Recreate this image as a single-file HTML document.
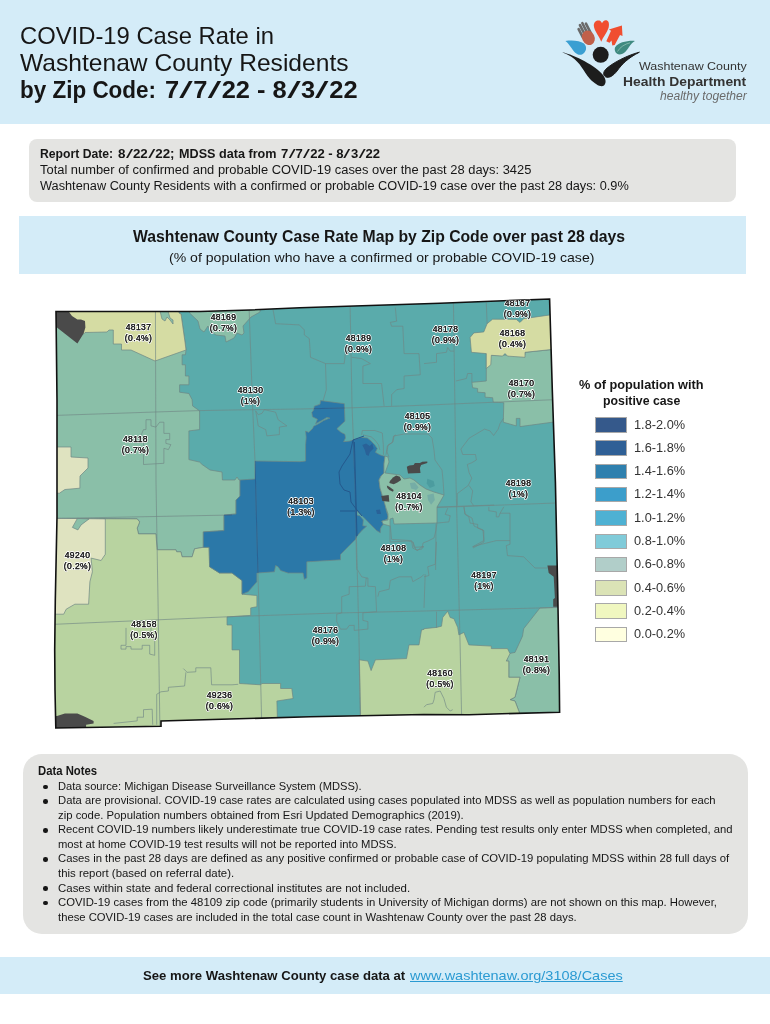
<!DOCTYPE html>
<html lang="en">
<head>
<meta charset="utf-8">
<title>COVID-19 Case Rate in Washtenaw County Residents by Zip Code</title>
<style>
html,body{margin:0;padding:0;}
body{width:770px;height:1024px;position:relative;overflow:hidden;background:#fff;font-family:"Liberation Sans",sans-serif;color:#161616;}
.band{position:absolute;background:#d4ecf8;}
.gbox{position:absolute;background:#e4e4e2;}
.t{position:absolute;white-space:nowrap;transform-origin:0 50%;line-height:1;}
.b{font-weight:bold;}
.i{font-style:italic;}
.sl{display:inline-block;width:0.556em;text-align:center;transform:scaleX(1.9);font-weight:normal;}
svg{position:absolute;left:0;top:0;}
svg text{font-family:"Liberation Sans",sans-serif;}
.dot{position:absolute;width:4.6px;height:4.6px;border-radius:50%;background:#161616;}
.sw{position:absolute;width:29.4px;height:13.6px;border:1px solid #a8a8a8;}
a{color:#2a9ad2;text-decoration:underline;}
</style>
</head>
<body>

<div class="band" style="left:0;top:0;width:770px;height:124px;"></div>
<div class="t" style="left:20.0px;top:23.9px;font-size:24px;transform:scaleX(0.9918);">COVID-19 Case Rate in</div>
<div class="t" style="left:20.0px;top:50.8px;font-size:24px;transform:scaleX(1.0247);">Washtenaw County Residents</div>
<div class="t b" style="left:20.0px;top:77.6px;font-size:24px;transform:scaleX(0.9359);">by Zip Code:</div>
<div class="t b" style="left:165.0px;top:77.6px;font-size:24px;transform:scaleX(1.0609);">7<span class="sl">/</span>7<span class="sl">/</span>22 - 8<span class="sl">/</span>3<span class="sl">/</span>22</div>
<div class="t" style="left:638.6px;top:60.5px;font-size:11.5px;transform:scaleX(1.0838);color:#333;">Washtenaw County</div>
<div class="t b" style="left:623.0px;top:74.6px;font-size:13.5px;transform:scaleX(1.0265);color:#333;">Health Department</div>
<div class="t i" style="left:659.5px;top:89.8px;font-size:12px;transform:scaleX(1.0075);color:#6a6a6a;">healthy together</div>
<div class="gbox" style="left:28.9px;top:139px;width:707.3px;height:63px;border-radius:8px;"></div>
<div class="t b" style="left:40.4px;top:147.7px;font-size:12px;transform:scaleX(1.0153);">Report Date:</div>
<div class="t b" style="left:117.5px;top:147.7px;font-size:12px;transform:scaleX(1.1144);">8<span class="sl">/</span>22<span class="sl">/</span>22;</div>
<div class="t b" style="left:179.0px;top:147.7px;font-size:12px;transform:scaleX(1.0521);">MDSS data from</div>
<div class="t b" style="left:281.0px;top:147.7px;font-size:12px;transform:scaleX(1.0912);">7<span class="sl">/</span>7<span class="sl">/</span>22 - 8<span class="sl">/</span>3<span class="sl">/</span>22</div>
<div class="t" style="left:40.4px;top:164.1px;font-size:12px;transform:scaleX(1.0753);">Total number of confirmed and probable COVID-19 cases over the past 28 days: 3425</div>
<div class="t" style="left:40.4px;top:180.2px;font-size:12px;transform:scaleX(1.0617);">Washtenaw County Residents with a confirmed or probable COVID-19 case over the past 28 days: 0.9%</div>
<div class="band" style="left:19px;top:216.2px;width:726.8px;height:57.4px;"></div>
<div class="t b" style="left:133.0px;top:228.9px;font-size:16px;transform:scaleX(0.9841);">Washtenaw County Case Rate Map by Zip Code over past 28 days</div>
<div class="t" style="left:168.6px;top:250.9px;font-size:13px;transform:scaleX(1.0822);">(% of population who have a confirmed or probable COVID-19 case)</div>
<svg width="770" height="1024" viewBox="0 0 770 1024">
<g id="logo">
<path d="M562.1,52.2 C575,55 596,66 603,75 C606,79 606.5,83 604,85.5 C601,87.5 596,85 590,79 C583,71 581,63 571,56.5 C567,54 564,53 562.1,52.2 Z" fill="#1d1d1d"/>
<path d="M639.4,52.2 C628,55 612,63 605.5,69.5 C603,72.5 603,75 605.5,76.8 C609,78.5 613,76 617,71 C622,64 628,58 639.4,52.2 Z" fill="#1d1d1d" stroke="#1d1d1d" stroke-width="1" stroke-linejoin="round"/>
<circle cx="600.7" cy="54.8" r="8" fill="#1d1d1d"/>
<path d="M565.4,40.9 C572,40 580,40.5 584,43.5 C587.5,47 586.5,52 582,54.5 C577.5,56 574,52 571.5,48 C569.5,45 567.5,42.5 565.4,40.9 Z" fill="#3a9fd2"/>
<path d="M634.9,40.9 C627,40.5 618,42.5 615,47.5 C614,51 616,54 619.5,54.5 C624,54.5 627,50 629,47 C631,44 633,42 634.9,40.9 Z" fill="#3f8a80"/>
<path d="M617.5,51.5 C620,47 625,44 630,42.8" fill="none" stroke="#8fc0b4" stroke-width="0.8"/>
<path d="M601.2,41.8 C600,37 594,31 593.8,25.5 C593.8,21.5 597,19.8 599.5,20.6 C600.8,21 601.6,22.3 602,23.3 C602.6,21.5 604.5,19.8 606.5,20.3 C609,21 609.5,24.5 608.5,28 C607,33 603,37 601.2,41.8 Z" fill="#f04e30"/>
<polygon points="621.9,25.6 622.5,36 620,35 614.7,45.1 612.3,45.5 611.5,40.5 609.5,42.8 606.3,41.2 611,30.8 608.9,29.5" fill="#f04e30"/>
<g transform="translate(586.3,33.8) rotate(-27)">
<rect x="-6" y="-9" width="2.6" height="12" rx="1.3" fill="#6a6a6a"/>
<rect x="-3" y="-12" width="2.6" height="14" rx="1.3" fill="#6a6a6a"/>
<rect x="0" y="-12.5" width="2.6" height="14" rx="1.3" fill="#6a6a6a"/>
<rect x="3" y="-10.5" width="2.6" height="13" rx="1.3" fill="#6a6a6a"/>
<ellipse cx="0" cy="4.5" rx="6.2" ry="7.5" fill="#c0604a"/>
</g>
</g>

<defs><clipPath id="cc"><polygon points="56.0,311.5 200.0,311.5 250.0,310.0 300.0,307.8 440.0,303.2 549.6,299.0 552.3,390.0 555.4,482.0 557.5,580.0 559.2,674.0 559.6,712.2 469.0,714.7 424.0,714.5 310.0,716.8 161.0,721.0 161.0,726.3 55.8,728.0 55.0,690.0 54.7,650.0 55.3,600.0 57.0,517.0 57.0,400.0"/></clipPath><clipPath id="bc"><polygon points="320.6,400.6 344.3,403.7 344.9,421.2 336.8,428.7 341.1,432.4 344.9,434.3 345.5,438.0 343.6,441.7 349.9,441.1 354.9,439.3 361.1,437.4 367.3,438.0 371.1,441.1 374.8,444.9 377.3,448.6 375.4,452.3 379.8,454.8 383.5,456.1 385.0,456.0 384.0,464.0 384.0,473.0 381.0,476.0 379.0,480.0 380.0,488.0 383.0,498.0 384.9,503.3 386.5,511.6 388.2,516.6 387.4,519.1 381.5,521.6 384.0,523.3 381.5,526.6 380.3,529.1 380.3,532.8 376.6,530.5 369.9,523.7 363.3,517.0 357.0,510.8 357.0,515.0 359.9,515.8 363.3,519.9 362.8,525.8 366.6,526.2 362.4,529.9 356.6,536.6 355.8,539.1 345.0,549.9 340.5,554.5 340.5,559.8 306.8,561.8 306.8,578.0 304.3,579.3 303.1,573.0 288.1,573.0 280.6,570.5 278.1,566.8 275.6,565.5 274.4,571.8 256.9,573.0 256.9,581.8 248.2,591.7 242.0,594.2 242.0,580.5 232.0,573.0 219.5,573.0 209.6,566.8 209.1,547.3 203.3,547.3 203.3,531.9 224.0,530.6 224.0,515.0 236.0,514.0 236.0,500.0 240.0,496.0 240.0,480.0 255.0,479.0 255.0,461.0 300.0,461.7 305.6,461.1 305.6,444.9 306.2,437.4 305.6,431.1 308.7,432.4 312.5,428.7 313.7,426.2 318.7,423.7 323.7,420.5 329.9,418.1 326.8,417.4 321.8,420.5 315.6,423.7 317.5,419.3 312.5,416.8 311.8,412.4 313.7,410.0 314.3,406.2 320.0,404.3"/></clipPath></defs>
<g clip-path="url(#cc)">
<rect x="40" y="290" width="540" height="450" fill="#5aabab"/>
<polygon points="50.0,300.0 179.0,300.0 179.0,313.0 181.0,314.0 185.0,342.0 186.0,350.0 185.4,354.8 182.1,354.8 182.1,364.8 185.4,364.8 185.4,376.0 188.9,376.0 188.9,384.8 179.6,384.8 179.6,392.2 188.9,393.5 192.1,399.7 192.6,405.9 199.6,410.9 199.6,429.6 188.9,430.9 188.9,459.6 199.6,462.1 202.1,464.5 210.0,470.0 222.0,472.0 222.4,480.0 235.0,480.0 237.0,477.0 239.0,480.0 240.0,480.0 240.0,496.0 236.0,500.0 236.0,514.0 224.0,515.0 224.0,530.6 203.3,531.9 203.3,547.3 194.6,548.8 192.1,556.8 182.1,556.8 180.9,551.8 176.7,551.8 175.9,549.8 157.2,549.8 155.9,533.9 138.5,533.9 137.2,528.1 139.7,521.9 137.2,518.9 110.0,518.5 50.0,519.0" fill="#8abfa8" stroke="#6f8684" stroke-width="0.7"/>
<polygon points="56.0,300.0 179.0,300.0 179.0,313.0 181.0,314.0 185.0,342.0 186.0,350.0 155.0,361.0 131.0,350.0 121.5,350.0 121.5,344.0 113.3,344.0 113.3,330.0 109.0,330.0 107.0,332.0 85.0,332.5 83.6,334.0 56.0,312.0" fill="#d5dca3" stroke="#6f8684" stroke-width="0.7"/>
<polygon points="160.0,311.0 162.0,319.0 165.0,321.0 167.0,317.0 170.0,320.0 173.0,324.0 173.0,320.0 170.0,318.0 168.0,311.0" fill="#8abfa8" stroke="#6f8684" stroke-width="0.7"/>
<polygon points="189.6,300.0 189.6,313.0 198.0,321.0 200.0,329.0 204.0,332.0 208.0,326.0 210.0,331.0 216.0,335.0 225.0,336.0 226.0,342.0 234.0,338.0 237.0,333.0 242.0,335.0 244.0,333.0 243.0,326.0 251.0,317.0 260.0,312.0 260.0,300.0" fill="#8abfa8" stroke="#6f8684" stroke-width="0.7"/>
<polygon points="50.0,447.0 71.0,447.0 71.0,457.0 88.0,458.0 88.0,468.0 80.0,476.0 79.9,482.0 79.9,488.2 64.9,489.5 59.4,493.2 50.0,493.2" fill="#dfe3c0" stroke="#6f8684" stroke-width="0.7"/>
<polygon points="50.0,518.5 137.2,518.9 139.7,521.9 137.2,528.1 138.5,533.9 155.9,533.9 157.2,549.8 175.9,549.8 176.7,551.8 180.9,551.8 182.1,556.8 192.1,556.8 194.6,548.8 203.3,547.3 209.1,547.3 209.6,566.8 219.5,573.0 232.0,573.0 242.0,580.5 242.0,594.2 256.9,595.5 256.9,606.7 250.7,607.9 250.7,615.4 232.0,616.6 227.0,616.9 227.0,625.0 232.0,625.0 232.0,649.9 239.5,649.9 239.5,683.5 260.7,684.8 261.9,683.5 280.6,683.5 280.6,688.5 291.8,688.5 293.1,698.5 276.9,701.0 277.4,719.7 50.0,735.0" fill="#b8d3a0" stroke="#6f8684" stroke-width="0.7"/>
<polygon points="50.0,518.2 105.3,518.9 105.3,554.3 101.1,560.5 91.1,558.1 92.4,571.8 89.9,581.7 88.6,604.2 74.9,604.2 66.2,609.2 63.7,614.2 50.0,614.2" fill="#dfe3c0" stroke="#6f8684" stroke-width="0.7"/>
<polygon points="77.4,518.4 89.1,518.9 81.1,524.9 77.9,529.9 72.4,527.4" fill="#8abfa8" stroke="#6f8684" stroke-width="0.7"/>
<polygon points="320.6,400.6 344.3,403.7 344.9,421.2 336.8,428.7 341.1,432.4 344.9,434.3 345.5,438.0 343.6,441.7 349.9,441.1 354.9,439.3 361.1,437.4 367.3,438.0 371.1,441.1 374.8,444.9 377.3,448.6 375.4,452.3 379.8,454.8 383.5,456.1 385.0,456.0 384.0,464.0 384.0,473.0 381.0,476.0 379.0,480.0 380.0,488.0 383.0,498.0 384.9,503.3 386.5,511.6 388.2,516.6 387.4,519.1 381.5,521.6 384.0,523.3 381.5,526.6 380.3,529.1 380.3,532.8 376.6,530.5 369.9,523.7 363.3,517.0 357.0,510.8 357.0,515.0 359.9,515.8 363.3,519.9 362.8,525.8 366.6,526.2 362.4,529.9 356.6,536.6 355.8,539.1 345.0,549.9 340.5,554.5 340.5,559.8 306.8,561.8 306.8,578.0 304.3,579.3 303.1,573.0 288.1,573.0 280.6,570.5 278.1,566.8 275.6,565.5 274.4,571.8 256.9,573.0 256.9,581.8 248.2,591.7 242.0,594.2 242.0,580.5 232.0,573.0 219.5,573.0 209.6,566.8 209.1,547.3 203.3,547.3 203.3,531.9 224.0,530.6 224.0,515.0 236.0,514.0 236.0,500.0 240.0,496.0 240.0,480.0 255.0,479.0 255.0,461.0 300.0,461.7 305.6,461.1 305.6,444.9 306.2,437.4 305.6,431.1 308.7,432.4 312.5,428.7 313.7,426.2 318.7,423.7 323.7,420.5 329.9,418.1 326.8,417.4 321.8,420.5 315.6,423.7 317.5,419.3 312.5,416.8 311.8,412.4 313.7,410.0 314.3,406.2 320.0,404.3" fill="#2b78a8" stroke="#6f8684" stroke-width="0.7"/>
<polygon points="385.0,456.0 388.0,457.0 389.0,462.0 385.0,473.0 400.0,475.0 404.0,479.0 410.0,478.0 414.0,480.0 420.0,485.0 426.0,489.0 434.0,492.0 444.0,495.0 440.0,502.0 437.0,507.0 437.0,523.0 394.0,524.0 393.0,518.0 390.0,519.0 390.0,526.0 383.0,524.0 382.0,521.0 388.0,520.0 388.0,514.0 386.0,508.0 383.0,498.0 380.0,488.0 379.0,480.0 381.0,476.0 384.0,473.0 384.0,464.0" fill="#8abfa8" stroke="#6f8684" stroke-width="0.7"/>
<polygon points="486.3,353.6 490.8,355.3 525.0,354.8 525.0,352.3 553.7,349.3 556.2,421.7 520.0,426.6 520.0,418.4 516.3,418.4 516.3,425.9 503.3,422.2 503.8,402.7 493.3,402.2 492.6,397.7 485.1,397.2 485.1,392.7 477.6,392.2 477.6,388.5 472.6,387.7 471.9,382.3 486.3,381.0" fill="#8abfa8" stroke="#6f8684" stroke-width="0.7"/>
<polygon points="487.1,323.7 492.6,319.2 516.3,319.4 520.0,322.4 523.7,318.7 553.7,314.4 553.7,349.3 525.0,352.3 525.0,357.3 507.5,356.1 505.0,353.6 502.5,356.1 491.3,355.3 490.8,364.8 486.3,368.5 486.3,353.6 471.4,352.3 470.1,337.4 473.9,332.9 483.8,331.9" fill="#d5dca3" stroke="#6f8684" stroke-width="0.7"/>
<polygon points="539.9,608.0 563.6,607.0 566.1,717.2 521.2,717.2 515.0,701.0 510.0,699.7 515.0,697.2 520.0,677.3 508.8,677.3 508.8,661.1 506.3,661.1 508.8,653.6 515.0,652.4 522.5,636.2 523.7,628.7" fill="#8abfa8" stroke="#6f8684" stroke-width="0.7"/>
<polygon points="424.0,628.7 436.5,627.4 441.5,626.2 442.7,617.5 447.7,611.2 450.2,617.5 453.9,618.7 457.7,627.4 458.9,634.9 463.9,632.4 468.9,644.9 491.3,646.1 491.3,648.6 507.5,648.6 510.0,653.6 506.3,661.1 508.8,661.1 508.8,677.3 520.0,677.3 515.0,697.2 510.0,699.7 515.0,701.0 521.2,717.2 360.0,730.0 360.4,719.7 359.2,659.8 367.9,661.1 371.1,670.6 375.4,659.8 406.5,658.6 409.0,644.9 419.0,644.9 421.5,629.9 424.0,629.4" fill="#b8d3a0" stroke="#6f8684" stroke-width="0.7"/>
<g fill="none" stroke="#6f8684" stroke-width="0.8" stroke-opacity="0.8">
<polyline points="155.4,300.0 155.6,361.0 156.0,482.0 158.0,600.0 160.0,735.0"/>
<polyline points="248.8,300.0 252.6,406.0 255.0,461.0 256.5,520.0 258.7,600.0 262.0,735.0"/>
<polyline points="350.0,300.0 352.0,405.0 355.0,482.0 357.0,560.0 359.0,640.0 361.0,735.0"/>
<polyline points="453.4,300.0 456.0,482.0 458.0,560.0 460.0,640.0 462.0,735.0"/>
<polyline points="50.0,415.6 155.0,412.0 199.6,410.6 232.0,410.0 300.0,409.0 352.0,407.8 424.0,405.2 553.7,399.7 570.0,399.0"/>
<polyline points="50.0,518.5 155.0,516.5 232.0,515.0"/>
<polyline points="437.0,507.5 556.0,503.0 570.0,502.5"/>
<polyline points="50.0,624.5 232.0,616.6 337.0,613.0 424.0,611.0 557.0,607.5 570.0,607.0"/>
<polyline points="143.5,429.6 146.0,429.6 146.0,419.7 151.0,419.7 151.0,425.9 155.9,427.1 159.7,422.2 163.9,422.2 163.9,433.4 169.7,433.4 169.7,439.6 165.9,439.6 165.9,443.4 170.9,444.6 168.4,449.6 163.9,448.3 163.9,463.3 143.5,464.5 143.5,438.4 139.7,438.4 143.5,429.6"/>
<polyline points="273.1,309.9 275.6,323.7 299.3,324.9 304.3,329.9 304.3,334.9 309.3,338.6 310.5,357.3 325.5,363.6 344.2,363.6 345.5,352.3 350.4,352.3"/>
<polyline points="325.5,363.6 326.3,389.7 323.0,401.0"/>
<polyline points="395.3,307.5 396.6,321.2 390.3,322.4 391.6,326.2 402.8,326.2 404.1,353.6 419.0,353.6 420.3,374.8 404.1,376.0 404.1,388.5 396.6,389.7 391.6,394.7 391.6,405.9"/>
<polyline points="351.7,357.3 361.7,358.6 370.4,363.6 362.9,366.1 362.9,383.5 381.6,383.5 384.1,405.9"/>
<polyline points="255.7,410.9 258.2,414.7 261.9,413.4 264.4,409.7 275.6,412.2 278.1,419.7 286.9,425.9 279.4,427.1 279.4,434.6 266.9,435.9 265.7,429.6 258.2,425.9 256.9,417.2 255.7,410.9"/>
<polyline points="486.3,302.5 487.1,323.7"/>
<polyline points="424.0,363.6 436.5,362.3 436.5,353.6 446.4,352.3 447.7,347.4 450.2,351.1 453.9,351.1"/>
<polyline points="455.9,381.0 466.4,378.5 467.6,373.5 471.9,373.5 471.9,382.3"/>
<polyline points="126.0,627.9 126.0,645.3 121.0,645.3 121.0,649.1 126.0,649.1 126.0,646.6 131.0,646.6 131.0,649.1 142.2,649.1 142.2,645.3 149.7,645.3 149.7,654.1 154.7,655.3 154.7,641.6 151.0,631.6 151.0,627.9"/>
<polyline points="341.7,596.7 349.2,594.2 349.2,586.7 365.4,586.2 366.2,578.0 367.9,578.0 367.9,586.2 375.4,586.7 376.6,611.7 362.9,612.9 362.9,620.4 367.9,621.6 367.9,629.1 354.2,630.4 354.2,625.4 349.2,625.4 346.7,629.1 340.5,629.1 336.7,621.6 336.7,614.2 341.7,612.9 341.7,596.7"/>
<polyline points="357.9,570.5 361.7,576.8 366.6,578.0"/>
<polyline points="377.9,596.7 379.1,591.7 389.1,589.2 390.3,580.5 399.1,576.8 411.5,576.8 412.8,581.7 421.5,576.8 424.0,574.3"/>
<polyline points="390.3,525.6 391.6,539.4 411.5,540.6 412.8,548.1 417.8,550.6 421.5,546.8 424.0,546.8"/>
<polyline points="355.9,535.6 356.7,569.3 357.9,570.5"/>
<polyline points="463.9,506.9 465.1,514.4 468.9,516.9 470.1,523.1 477.6,524.4 477.6,528.1 483.8,530.6 483.8,540.6 472.6,546.8 481.4,544.3 496.3,540.6 510.0,540.6"/>
<polyline points="503.8,506.9 500.1,513.2 510.0,513.2 510.0,544.3 506.3,545.6 507.5,555.6 523.7,556.8 535.0,568.0 547.4,568.0"/>
<polyline points="488.8,506.9 488.8,510.7 496.3,511.9 496.3,516.9 498.8,516.9 500.1,513.2"/>
<polyline points="436.5,541.8 435.2,564.3 427.7,566.8 429.0,575.5 424.0,576.8"/>
<polyline points="424.0,607.9 425.2,574.3"/>
<polyline points="436.5,523.1 448.9,521.9 450.2,515.7 445.2,514.4 447.7,508.2"/>
<polyline points="436.5,611.7 436.5,627.9"/>
<polyline points="424.0,546.8 414.0,547.3 412.8,541.8"/>
<polyline points="183.4,668.6 187.1,672.3 195.8,671.8 195.8,667.8 210.8,667.8 211.6,684.8 232.0,684.8 238.2,684.3"/>
<polyline points="185.9,672.3 184.6,686.0 168.4,687.3 168.4,691.0 160.9,691.8 156.7,694.3 156.7,724.7"/>
<polyline points="113.6,723.4 137.2,720.9 137.2,717.2 143.5,717.2 143.5,709.7 152.2,709.2 152.7,724.7"/>
<polyline points="424.0,707.2 426.5,704.7 432.7,703.5 434.0,699.7 435.2,692.3 440.2,691.0 443.9,698.5 446.4,707.2 450.2,711.0 452.7,709.7"/>
<polyline points="389.0,457.0 387.0,452.0 388.0,445.0 393.0,442.0 394.0,436.0 404.0,434.0 428.0,434.0 432.0,438.0 434.0,450.0 435.0,460.0 442.0,470.0 443.0,480.0 444.0,495.0"/>
<polyline points="390.0,526.0 390.0,542.0 407.0,541.0 413.0,542.0 416.0,550.0 422.0,549.0 423.0,543.0 428.0,541.0 434.0,538.0 436.0,530.0 437.0,523.0"/>
<polyline points="437.0,507.0 494.0,505.0"/>
<polyline points="436.0,524.0 435.6,570.0"/>
<polyline points="464.0,507.0 465.0,514.0 472.0,518.0 474.0,526.0 483.0,530.0 484.0,542.0 473.0,548.0"/>
<polyline points="361.7,434.9 362.3,430.5 374.8,430.5 382.3,433.0 383.3,444.9 383.5,454.8"/>
<polyline points="363.0,434.9 371.1,436.8 374.8,439.9 378.6,444.9 379.8,449.9"/>
<polyline points="386.0,454.8 387.3,446.1 392.3,442.4 393.5,436.1 396.0,434.9"/>
<polyline points="503.6,418.2 500.0,423.6 498.2,429.1 493.6,435.5 490.0,430.9 484.5,429.1 469.1,438.2 460.9,449.1 462.7,454.5 475.5,454.5 476.4,460.0 471.8,462.7 467.3,464.5 469.1,472.7 471.8,478.2 468.2,485.5 457.3,493.6 457.3,505.5"/>
<polyline points="469.1,485.5 472.7,490.9 470.9,501.8 473.6,505.5"/>
</g>
<g clip-path="url(#bc)" fill="none" stroke="#245f94" stroke-width="0.9">
<polyline points="155.4,300.0 155.6,361.0 156.0,482.0 158.0,600.0 160.0,735.0"/>
<polyline points="248.8,300.0 252.6,406.0 255.0,461.0 256.5,520.0 258.7,600.0 262.0,735.0"/>
<polyline points="350.0,300.0 352.0,405.0 355.0,482.0 357.0,560.0 359.0,640.0 361.0,735.0"/>
<polyline points="453.4,300.0 456.0,482.0 458.0,560.0 460.0,640.0 462.0,735.0"/>
<polyline points="50.0,415.6 155.0,412.0 199.6,410.6 232.0,410.0 300.0,409.0 352.0,407.8 424.0,405.2 553.7,399.7 570.0,399.0"/>
<polyline points="50.0,518.5 155.0,516.5 232.0,515.0"/>
<polyline points="437.0,507.5 556.0,503.0 570.0,502.5"/>
</g>
<polyline points="364.0,436.0 353.0,440.0 350.0,454.0 342.0,466.0 339.0,472.0 340.0,484.0 344.0,490.0 350.0,492.0 351.0,502.0 357.0,510.0 362.0,516.0" fill="none" stroke="#24588c" stroke-width="1"/>
<polyline points="340.0,511.0 355.0,511.0" fill="none" stroke="#24588c" stroke-width="1"/>
<polyline points="354.4,442.0 357.0,536.0" fill="none" stroke="#24588c" stroke-width="1"/>
<polygon points="409.9,483.0 414.9,482.4 418.6,487.4 416.1,489.9 411.1,488.6" fill="#75ada6"/>
<polygon points="427.3,494.9 433.6,493.6 434.8,499.9 431.1,504.8 428.0,499.9" fill="#75ada6"/>
<polygon points="427.3,478.7 433.6,481.1 434.8,486.1 429.8,488.0 426.7,483.6" fill="#4c9c9f"/>
<polygon points="376.0,510.0 380.0,509.5 381.0,514.0 377.0,514.0" fill="#2a6298"/>
<polygon points="362.3,444.9 366.1,443.6 369.8,446.1 372.3,443.6 373.6,448.6 369.8,452.3 368.6,456.1 366.1,454.8 364.8,449.9" fill="#2a6298"/>
<polygon points="50.0,300.0 69.4,300.0 69.4,312.4 72.0,316.0 77.4,319.4 81.0,319.4 85.0,321.0 85.4,327.4 83.6,333.6 77.4,343.6 50.0,322.0" fill="#4a4a4a"/>
<polygon points="50.0,715.9 57.0,715.9 64.9,713.5 77.4,713.5 84.9,716.7 93.6,720.9 93.6,723.4 86.1,724.7 86.1,732.2 50.0,732.2" fill="#4a4a4a"/>
<polygon points="547.4,565.5 558.6,565.5 558.6,606.7 553.2,606.7 553.2,599.2 554.9,597.9 553.7,576.8 548.7,573.0" fill="#4a4a4a"/>
<polygon points="406.8,466.8 409.3,465.6 413.6,464.9 414.9,463.1 419.9,463.1 422.3,461.8 427.3,461.4 427.3,463.1 421.1,464.9 419.9,468.1 420.5,473.0 408.0,473.4 407.4,469.9" fill="#4a4a4a"/>
<polygon points="393.0,477.4 396.2,475.5 399.9,476.8 401.1,479.9 397.4,482.4 393.7,484.3 389.3,483.0 389.9,481.1" fill="#4a4a4a"/>
<polygon points="386.8,485.5 389.3,486.8 393.7,489.9 393.0,491.7 389.3,489.9 387.4,488.0" fill="#4a4a4a"/>
<polygon points="381.2,496.1 388.7,494.9 389.3,501.7 382.4,501.1" fill="#4a4a4a"/>
</g>
<polygon points="56.0,311.5 200.0,311.5 250.0,310.0 300.0,307.8 440.0,303.2 549.6,299.0 552.3,390.0 555.4,482.0 557.5,580.0 559.2,674.0 559.6,712.2 469.0,714.7 424.0,714.5 310.0,716.8 161.0,721.0 161.0,726.3 55.8,728.0 55.0,690.0 54.7,650.0 55.3,600.0 57.0,517.0 57.0,400.0" fill="none" stroke="#111" stroke-width="1.6" stroke-linejoin="miter"/>
<g clip-path="url(#cc)" font-size="8.5" letter-spacing="0.4" text-anchor="middle" fill="#222" stroke="#fff" stroke-width="1.8" stroke-linejoin="round" paint-order="stroke" style="paint-order:stroke">
<text x="138.5" y="329.5">48137</text><text x="138.5" y="340.5">(0.4%)</text>
<text x="223.5" y="319.5">48169</text><text x="223.5" y="330.5">(0.7%)</text>
<text x="358.5" y="340.5">48189</text><text x="358.5" y="351.5">(0.9%)</text>
<text x="445.5" y="331.5">48178</text><text x="445.5" y="342.5">(0.9%)</text>
<text x="517.5" y="305.5">48167</text><text x="517.5" y="316.5">(0.9%)</text>
<text x="512.5" y="335.5">48168</text><text x="512.5" y="346.5">(0.4%)</text>
<text x="521.5" y="385.5">48170</text><text x="521.5" y="396.5">(0.7%)</text>
<text x="250.5" y="392.5">48130</text><text x="250.5" y="403.5">(1%)</text>
<text x="417.5" y="418.5">48105</text><text x="417.5" y="429.5">(0.9%)</text>
<text x="135.5" y="441.5">48118</text><text x="135.5" y="452.5">(0.7%)</text>
<text x="518.5" y="485.5">48198</text><text x="518.5" y="496.5">(1%)</text>
<text x="301" y="504">48103</text><text x="301" y="515">(1.3%)</text>
<text x="409" y="498.5">48104</text><text x="409" y="509.5">(0.7%)</text>
<text x="393.5" y="550.5">48108</text><text x="393.5" y="561.5">(1%)</text>
<text x="484" y="578">48197</text><text x="484" y="589">(1%)</text>
<text x="77.5" y="557.5">49240</text><text x="77.5" y="568.5">(0.2%)</text>
<text x="144" y="626.5">48158</text><text x="144" y="637.5">(0.5%)</text>
<text x="325.5" y="632.5">48176</text><text x="325.5" y="643.5">(0.9%)</text>
<text x="440" y="676">48160</text><text x="440" y="687">(0.5%)</text>
<text x="536.5" y="662">48191</text><text x="536.5" y="673">(0.8%)</text>
<text x="219.5" y="697.5">49236</text><text x="219.5" y="708.5">(0.6%)</text>
</g>
<g clip-path="url(#cc)" font-size="8.5" letter-spacing="0.4" text-anchor="middle" fill="#222" stroke="#222" stroke-width="0.25">
<text x="138.5" y="329.5">48137</text><text x="138.5" y="340.5">(0.4%)</text>
<text x="223.5" y="319.5">48169</text><text x="223.5" y="330.5">(0.7%)</text>
<text x="358.5" y="340.5">48189</text><text x="358.5" y="351.5">(0.9%)</text>
<text x="445.5" y="331.5">48178</text><text x="445.5" y="342.5">(0.9%)</text>
<text x="517.5" y="305.5">48167</text><text x="517.5" y="316.5">(0.9%)</text>
<text x="512.5" y="335.5">48168</text><text x="512.5" y="346.5">(0.4%)</text>
<text x="521.5" y="385.5">48170</text><text x="521.5" y="396.5">(0.7%)</text>
<text x="250.5" y="392.5">48130</text><text x="250.5" y="403.5">(1%)</text>
<text x="417.5" y="418.5">48105</text><text x="417.5" y="429.5">(0.9%)</text>
<text x="135.5" y="441.5">48118</text><text x="135.5" y="452.5">(0.7%)</text>
<text x="518.5" y="485.5">48198</text><text x="518.5" y="496.5">(1%)</text>
<text x="301" y="504">48103</text><text x="301" y="515">(1.3%)</text>
<text x="409" y="498.5">48104</text><text x="409" y="509.5">(0.7%)</text>
<text x="393.5" y="550.5">48108</text><text x="393.5" y="561.5">(1%)</text>
<text x="484" y="578">48197</text><text x="484" y="589">(1%)</text>
<text x="77.5" y="557.5">49240</text><text x="77.5" y="568.5">(0.2%)</text>
<text x="144" y="626.5">48158</text><text x="144" y="637.5">(0.5%)</text>
<text x="325.5" y="632.5">48176</text><text x="325.5" y="643.5">(0.9%)</text>
<text x="440" y="676">48160</text><text x="440" y="687">(0.5%)</text>
<text x="536.5" y="662">48191</text><text x="536.5" y="673">(0.8%)</text>
<text x="219.5" y="697.5">49236</text><text x="219.5" y="708.5">(0.6%)</text>
</g>
</svg>
<div class="t b" style="left:578.5px;top:378.3px;font-size:13px;transform:scaleX(0.9805);">% of population with</div>
<div class="t b" style="left:602.6px;top:393.6px;font-size:13px;transform:scaleX(0.9467);">positive case</div>
<div class="sw" style="left:595.4px;top:417.0px;background:#35598b;"></div>
<div class="t" style="left:633.9px;top:417.5px;font-size:13px;transform:scaleX(0.9822);color:#333;">1.8-2.0%</div>
<div class="sw" style="left:595.4px;top:440.3px;background:#2f6096;"></div>
<div class="t" style="left:633.9px;top:440.8px;font-size:13px;transform:scaleX(0.9822);color:#333;">1.6-1.8%</div>
<div class="sw" style="left:595.4px;top:463.6px;background:#2f80ae;"></div>
<div class="t" style="left:633.9px;top:464.1px;font-size:13px;transform:scaleX(0.9822);color:#333;">1.4-1.6%</div>
<div class="sw" style="left:595.4px;top:486.9px;background:#3c9ecb;"></div>
<div class="t" style="left:633.9px;top:487.4px;font-size:13px;transform:scaleX(0.9822);color:#333;">1.2-1.4%</div>
<div class="sw" style="left:595.4px;top:510.2px;background:#4eb1d3;"></div>
<div class="t" style="left:633.9px;top:510.7px;font-size:13px;transform:scaleX(0.9822);color:#333;">1.0-1.2%</div>
<div class="sw" style="left:595.4px;top:533.5px;background:#80cbd9;"></div>
<div class="t" style="left:633.9px;top:534.0px;font-size:13px;transform:scaleX(0.9822);color:#333;">0.8-1.0%</div>
<div class="sw" style="left:595.4px;top:556.8px;background:#b1cec9;"></div>
<div class="t" style="left:633.9px;top:557.3px;font-size:13px;transform:scaleX(0.9822);color:#333;">0.6-0.8%</div>
<div class="sw" style="left:595.4px;top:580.1px;background:#dbe3b6;"></div>
<div class="t" style="left:633.9px;top:580.6px;font-size:13px;transform:scaleX(0.9822);color:#333;">0.4-0.6%</div>
<div class="sw" style="left:595.4px;top:603.4px;background:#f0f7c0;"></div>
<div class="t" style="left:633.9px;top:603.9px;font-size:13px;transform:scaleX(0.9822);color:#333;">0.2-0.4%</div>
<div class="sw" style="left:595.4px;top:626.7px;background:#ffffe0;"></div>
<div class="t" style="left:633.9px;top:627.2px;font-size:13px;transform:scaleX(0.9822);color:#333;">0.0-0.2%</div>
<div class="gbox" style="left:22.8px;top:753.8px;width:725px;height:180.4px;border-radius:19px;"></div>
<div class="t b" style="left:38.2px;top:765.0px;font-size:12.5px;transform:scaleX(0.9052);">Data Notes</div>
<div class="dot" style="left:43.4px;top:784.5px;"></div>
<div class="t" style="left:57.9px;top:780.7px;font-size:11.5px;transform:scaleX(0.9675);">Data source: Michigan Disease Surveillance System (MDSS).</div>
<div class="dot" style="left:43.4px;top:799.0px;"></div>
<div class="t" style="left:57.9px;top:795.2px;font-size:11.5px;transform:scaleX(0.9798);">Data are provisional. COVID-19 case rates are calculated using cases populated into MDSS as well as population numbers for each</div>
<div class="t" style="left:57.9px;top:809.8px;font-size:11.5px;transform:scaleX(0.9853);">zip code. Population numbers obtained from Esri Updated Demographics (2019).</div>
<div class="dot" style="left:43.4px;top:828.1px;"></div>
<div class="t" style="left:57.9px;top:824.3px;font-size:11.5px;transform:scaleX(0.9761);">Recent COVID-19 numbers likely underestimate true COVID-19 case rates. Pending test results only enter MDSS when completed, and</div>
<div class="t" style="left:57.9px;top:838.9px;font-size:11.5px;transform:scaleX(0.9775);">most at home COVID-19 test results will not be reported into MDSS.</div>
<div class="dot" style="left:43.4px;top:857.2px;"></div>
<div class="t" style="left:57.9px;top:853.4px;font-size:11.5px;transform:scaleX(0.9821);">Cases in the past 28 days are defined as any positive confirmed or probable case of COVID-19 populating MDSS within 28 full days of</div>
<div class="t" style="left:57.9px;top:868.0px;font-size:11.5px;transform:scaleX(0.9911);">this report (based on referral date).</div>
<div class="dot" style="left:43.4px;top:886.4px;"></div>
<div class="t" style="left:57.9px;top:882.5px;font-size:11.5px;transform:scaleX(0.9961);">Cases within state and federal correctional institutes are not included.</div>
<div class="dot" style="left:43.4px;top:900.9px;"></div>
<div class="t" style="left:57.9px;top:897.1px;font-size:11.5px;transform:scaleX(0.9847);">COVID-19 cases from the 48109 zip code (primarily students in University of Michigan dorms) are not shown on this map. However,</div>
<div class="t" style="left:57.9px;top:911.6px;font-size:11.5px;transform:scaleX(0.9795);">these COVID-19 cases are included in the total case count in Washtenaw County over the past 28 days.</div>
<div class="band" style="left:0;top:957.2px;width:770px;height:37.1px;"></div>
<div class="t b" style="left:143.3px;top:969.2px;font-size:13.5px;transform:scaleX(0.9727);">See more Washtenaw County case data at</div>
<div class="t" style="left:409.8px;top:969.2px;font-size:13.5px;transform:scaleX(1.0737);"><a>www.washtenaw.org/3108/Cases</a></div>
</body>
</html>
